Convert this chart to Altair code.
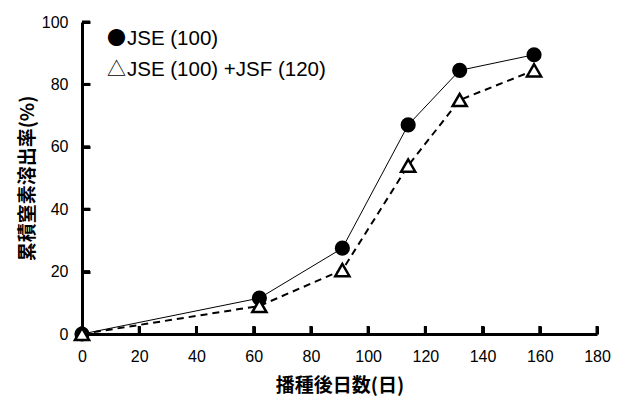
import altair as alt
import pandas as pd

days = [0, 62, 91, 114, 132, 158]
jse = [0, 11.5, 27.5, 67.0, 84.5, 89.5]
jse_jsf = [0, 9.0, 20.5, 54.0, 75.0, 84.5]
x_ticks = [0, 20, 40, 60, 80, 100, 120, 140, 160, 180]
y_ticks = [0, 20, 40, 60, 80, 100]
legend_symbols = ["●", "△"]
legend_labels = ["JSE (100)", "JSE (100) +JSF (120)"]

W, H = 515, 312

df1 = pd.DataFrame({"day": days, "val": jse})
df2 = pd.DataFrame({"day": days, "val": jse_jsf})

xs = alt.Scale(domain=[0, 180], nice=False, zero=False)
ys = alt.Scale(domain=[0, 100], nice=False)

xax = alt.Axis(values=x_ticks, ticks=False, grid=False, domainWidth=3, domainColor="black",
               labelFontSize=16, labelColor="black", labelFont="Liberation Sans",
               labelPadding=14, title="播種後日数(日)", titleFont="Noto Sans CJK JP",
               titleFontSize=19, titleFontWeight="bold", titleColor="#000000", titlePadding=12,
               labelFlush=False)
yax = alt.Axis(values=y_ticks, ticks=False, grid=False, domainWidth=3, domainColor="black",
               labelFontSize=16, labelColor="black", labelFont="Liberation Sans",
               labelPadding=14, title="累積窒素溶出率(%)", titleFont="Noto Sans CJK JP",
               titleFontSize=19, titleFontWeight="bold", titleColor="#000000", titlePadding=4,
               labelFlush=False)
# inner tick axes (ticks pointing into the plot)
xax_in = alt.Axis(orient="top", offset=-H, values=x_ticks, labels=False, domain=False, grid=False,
                  ticks=True, tickSize=8, tickWidth=3, tickColor="black", title=None)
yax_in = alt.Axis(orient="right", offset=-W, values=y_ticks, labels=False, domain=False, grid=False,
                  ticks=True, tickSize=8, tickWidth=3, tickColor="black", title=None)

line1 = alt.Chart(df1).mark_line(color="black", strokeWidth=1).encode(
    x=alt.X("day:Q", scale=xs, axis=xax), y=alt.Y("val:Q", scale=ys, axis=yax))
line2 = alt.Chart(df2).mark_line(color="black", strokeWidth=2, strokeDash=[7, 5]).encode(
    x=alt.X("day:Q", scale=xs, axis=xax_in), y=alt.Y("val:Q", scale=ys, axis=yax_in))
pts1 = alt.Chart(df1).mark_point(shape="circle", filled=True, color="black", size=230, opacity=1).encode(
    x=alt.X("day:Q", scale=xs, axis=None), y=alt.Y("val:Q", scale=ys, axis=None))
pts2 = alt.Chart(df2).mark_point(shape="triangle-up", filled=True, fill="white", stroke="black",
                                 strokeWidth=2.5, size=200, opacity=1).encode(
    x=alt.X("day:Q", scale=xs, axis=None), y=alt.Y("val:Q", scale=ys, axis=None))

# explicit inner tick marks as well
xtk = alt.Chart(pd.DataFrame({"tx": x_ticks})).mark_tick(
    orient="vertical", color="black", size=8, thickness=3, opacity=1
).encode(x=alt.X("tx:Q", scale=xs, axis=None), y=alt.value(H - 4))
ytk = alt.Chart(pd.DataFrame({"ty": y_ticks})).mark_tick(
    orient="horizontal", color="black", size=8, thickness=3, opacity=1
).encode(y=alt.Y("ty:Q", scale=ys, axis=None), x=alt.value(4))

legdf = pd.DataFrame({"sym": legend_symbols, "lab": legend_labels, "i": [0, 1]})
off = alt.YOffset("i:Q", scale=alt.Scale(domain=[0, 1], range=[0, 31]))
legsym = alt.Chart(legdf).mark_text(
    align="left", baseline="middle", fontSize=19, font="Noto Sans CJK JP", color="black"
).encode(text="sym:N", x=alt.value(25), y=alt.value(17), yOffset=off)
leglab = alt.Chart(legdf).mark_text(
    align="left", baseline="middle", fontSize=20.5, font="Liberation Sans", color="black"
).encode(text="lab:N", x=alt.value(45), y=alt.value(17), yOffset=off)

chart = alt.layer(line1, line2, xtk, ytk, pts1, pts2, legsym, leglab).resolve_axis(
    x="independent", y="independent"
).properties(
    width=W, height=H,
    autosize=alt.AutoSizeParams(type="none"),
    padding={"left": 82, "top": 22, "right": 22, "bottom": 64},
).configure_view(stroke=None)

chart.save("out.html", embed_options={"renderer": "svg", "actions": False})
